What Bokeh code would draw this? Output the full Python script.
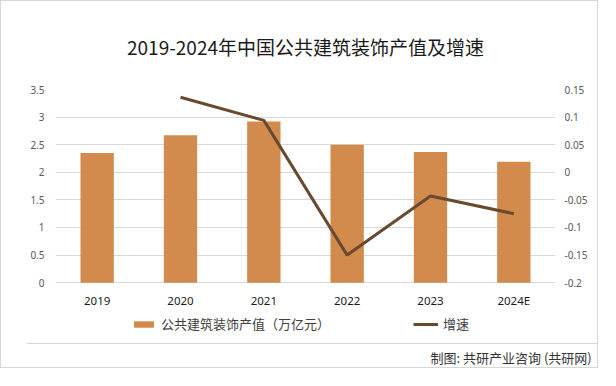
from bokeh.plotting import figure
from bokeh.models import (Range1d, LinearAxis, FixedTicker, NumeralTickFormatter,
                          Legend, LegendItem, Title)
from bokeh.embed import file_html
from bokeh.resources import INLINE

# ---- data ----
years = ["2019", "2020", "2021", "2022", "2023", "2024E"]
output_value = [2.35, 2.67, 2.92, 2.50, 2.37, 2.19]          # 公共建筑装饰产值（万亿元）
growth_years = ["2020", "2021", "2022", "2023", "2024E"]
growth_rate = [0.136, 0.094, -0.150, -0.043, -0.075]         # 增速
left_ticks = [0, 0.5, 1, 1.5, 2, 2.5, 3, 3.5]
right_ticks = [-0.2, -0.15, -0.1, -0.05, 0, 0.05, 0.1, 0.15]

title_text = "2019-2024年中国公共建筑装饰产值及增速"
bar_label = "公共建筑装饰产值（万亿元）"
line_label = "增速"
footer_text = "制图: 共研产业咨询 (共研网)"

BAR = "#d38b4d"
LINE = "#694a2f"
GRID = "#d9d9d9"
CJK = "Noto Sans CJK SC"
NUM = "Noto Sans"

# ---- layout (pixels inside the bordered box) ----
W, H = 598, 368
ML, MR = 54, 44
TOP, ZERO, BOTTOM = 86, 283, 345        # 3.5 line, 0 line, frame bottom
L_MAX, R_MIN, R_MAX = 3.5, -0.2, 0.15
lpp = L_MAX / (ZERO - TOP)              # left units per pixel
rpp = (R_MAX - R_MIN) / (ZERO - TOP)    # right units per pixel

p = figure(x_range=years,
           y_range=Range1d(-(BOTTOM - ZERO) * lpp, L_MAX),
           width=W, height=H, output_backend="svg", toolbar_location=None,
           min_border_left=ML, min_border_right=MR,
           min_border_top=TOP, min_border_bottom=H - BOTTOM)
p.outline_line_color = None
p.background_fill_alpha = 0
p.border_fill_alpha = 0
p.styles = {
    "border": "1px solid #d6d6d6",
    "background": "linear-gradient(#d6d6d6, #d6d6d6) 26px 342px / 571px 1px no-repeat, white",
}
p.xgrid.visible = False
p.ygrid.ticker = FixedTicker(ticks=left_ticks)
p.ygrid.grid_line_color = GRID
p.ygrid.grid_line_width = 1

p.title.text = title_text
p.title.align = "center"
p.title.offset = 3
p.title.text_font = CJK
p.title.text_font_size = "19px"
p.title.text_font_style = "normal"
p.title.text_color = "#1a1a1a"
p.title.standoff = 59

p.extra_y_ranges = {"g": Range1d(R_MIN - (BOTTOM - ZERO) * rpp, R_MAX)}

bars = p.vbar(x=years, top=output_value, width=0.4, color=BAR, line_color=None)
line = p.line(x=growth_years, y=growth_rate, y_range_name="g",
              line_color=LINE, line_width=3)

xa = p.xaxis[0]
xa.fixed_location = 0
xa.axis_line_color = None
xa.major_tick_line_color = None
xa.minor_tick_line_color = None
xa.major_tick_out = 0
xa.major_tick_in = 0
xa.major_label_text_font = NUM
xa.major_label_text_font_size = "11.5px"
xa.major_label_text_color = "#1a1a1a"
xa.major_label_standoff = 10

ya = p.yaxis[0]
ya.ticker = FixedTicker(ticks=left_ticks)
ya.formatter = NumeralTickFormatter(format="0.[0]")
ya.axis_line_color = None
ya.major_tick_line_color = None
ya.minor_tick_line_color = None
ya.major_tick_out = 0
ya.major_label_text_font = NUM
ya.major_label_text_font_size = "10px"
ya.major_label_text_color = "#595959"
ya.major_label_standoff = 11

ra = LinearAxis(y_range_name="g", ticker=FixedTicker(ticks=right_ticks),
                formatter=NumeralTickFormatter(format="0.[00]"))
ra.axis_line_color = None
ra.major_tick_line_color = None
ra.minor_tick_line_color = None
ra.major_tick_out = 0
ra.major_label_text_font = NUM
ra.major_label_text_font_size = "10px"
ra.major_label_text_color = "#595959"
ra.major_label_standoff = 9
p.add_layout(ra, "right")

legend = Legend(items=[LegendItem(label=bar_label, renderers=[bars]),
                       LegendItem(label=line_label, renderers=[line])],
                orientation="horizontal", location=(76, 10),
                glyph_width=25, glyph_height=8, label_height=16,
                label_standoff=5, spacing=83, padding=0, margin=0,
                label_text_font=CJK, label_text_font_size="13px",
                label_text_color="#404040",
                background_fill_alpha=0, border_line_color=None)
p.add_layout(legend, "center")

footer = Title(text=footer_text, align="left", offset=375, standoff=5,
               text_font=CJK, text_font_size="13px", text_font_style="normal",
               text_color="#333333")
p.add_layout(footer, "below")

open("out.html", "w").write(file_html(p, INLINE))
